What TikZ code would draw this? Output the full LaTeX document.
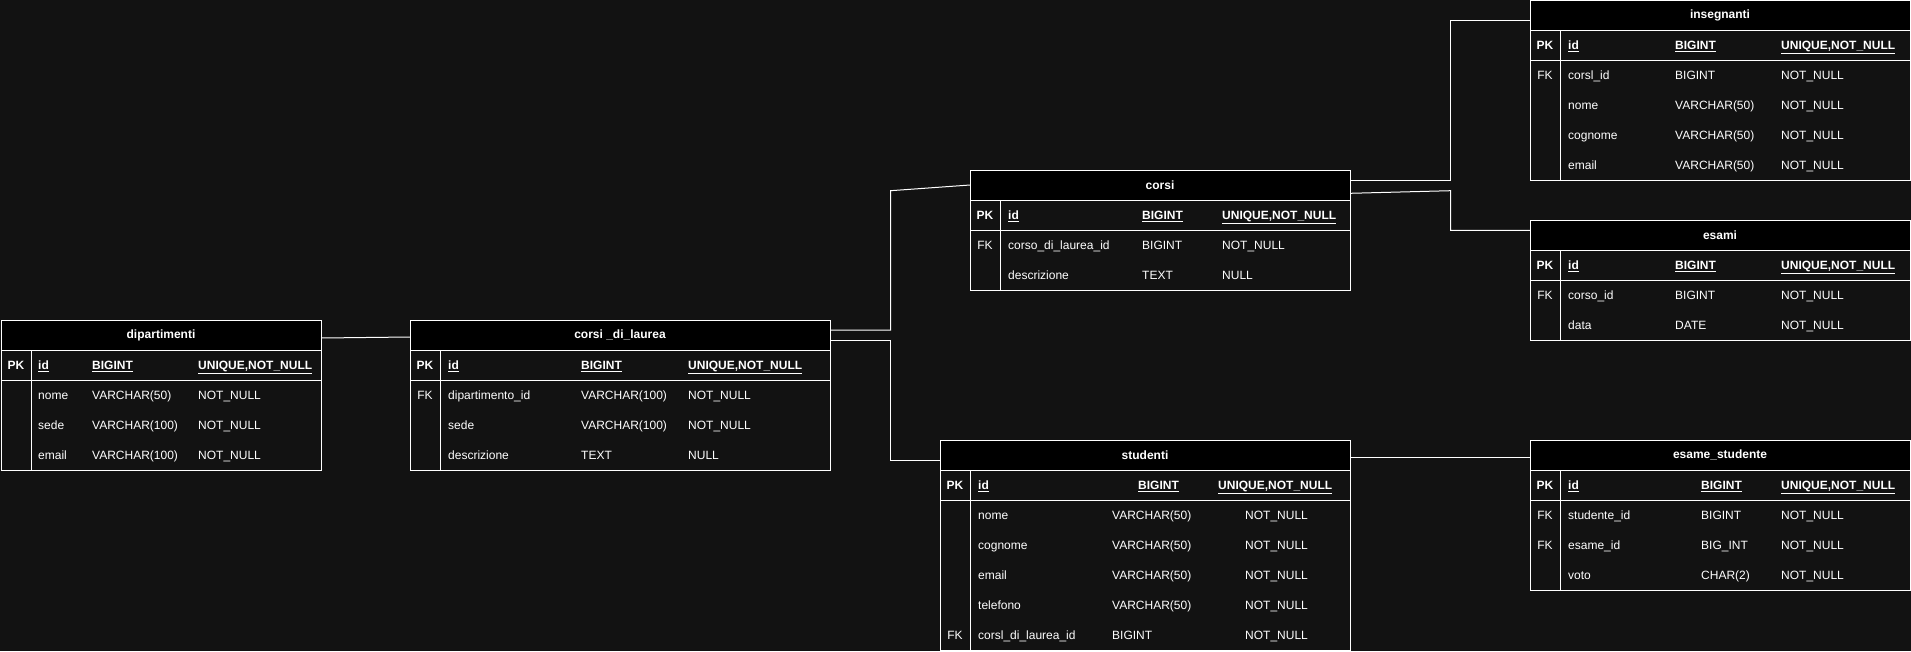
\documentclass[tikz,border=0pt]{standalone}
\usepackage{fontspec}
\setmainfont{Liberation Sans}
\definecolor{bgc}{RGB}{18,18,18}
\tikzset{
  tframe/.style={draw=white, line width=1pt, anchor=north west, inner sep=0pt, outer sep=0pt},
  thead/.style={draw=white, fill=black, line width=1pt, anchor=north west, inner sep=0pt, outer sep=0pt,
    minimum height=30pt, text=white, font=\fontsize{12}{14}\selectfont\bfseries},
  tline/.style={draw=white, line width=1pt},
  cell/.style={anchor=west, inner sep=0pt, text=white, text height=8.6pt, text depth=0pt,
    font=\fontsize{12}{14}\selectfont},
  keycell/.style={anchor=center, inner sep=0pt, text=white, text height=8.6pt, text depth=0pt,
    font=\fontsize{12}{14}\selectfont},
  conn/.style={draw=white, line width=1pt},
}
\newcommand{\pk}[1]{\textbf{\underline{#1}}}
\newcommand{\ertable}[6]{%
  \def\tL{#2}\def\tT{#3}%
  \node[tframe, minimum width=#4pt, minimum height=#5*30pt] (#1) at (#2,#3) {};
  \node[thead, minimum width=#4pt] (#1-title) at (#2,#3) {#6};
  \draw[tline] ([yshift=-60pt]#1.north west) -- ([yshift=-60pt]#1.north east);
  \draw[tline] ([xshift=30pt,yshift=-30pt]#1.north west) -- ([xshift=30pt]#1.south west);
}
\newcommand{\erow}[9]{%
  \node[keycell] (#1-#2k) at (\tL+15, \tT+45+30*#2) {#3};
  \node[cell] (#1-#2a) at (#4, \tT+45+30*#2) {#5};
  \node[cell] (#1-#2b) at (#6, \tT+45+30*#2) {#7};
  \node[cell] (#1-#2c) at (#8, \tT+45+30*#2) {#9};
}
\begin{document}
\begin{tikzpicture}[x=1pt, y=-1pt]
\fill[bgc] (0,0) rectangle (1911,651);
\useasboundingbox (0,0) rectangle (1911,651);

% dipartimenti
\ertable{dip}{1}{320}{320}{5}{dipartimenti}
\erow{dip}{0}{\textbf{PK}}{38}{\pk{id}}{92}{\pk{BIGINT}}{198}{\pk{UNIQUE,NOT\_NULL}}
\erow{dip}{1}{}{38}{nome}{92}{VARCHAR(50)}{198}{NOT\_NULL}
\erow{dip}{2}{}{38}{sede}{92}{VARCHAR(100)}{198}{NOT\_NULL}
\erow{dip}{3}{}{38}{email}{92}{VARCHAR(100)}{198}{NOT\_NULL}

% corsi _di_laurea
\ertable{cdl}{410}{320}{420}{5}{corsi \_di\_laurea}
\erow{cdl}{0}{\textbf{PK}}{448}{\pk{id}}{581}{\pk{BIGINT}}{688}{\pk{UNIQUE,NOT\_NULL}}
\erow{cdl}{1}{FK}{448}{dipartimento\_id}{581}{VARCHAR(100)}{688}{NOT\_NULL}
\erow{cdl}{2}{}{448}{sede}{581}{VARCHAR(100)}{688}{NOT\_NULL}
\erow{cdl}{3}{}{448}{descrizione}{581}{TEXT}{688}{NULL}

% corsi
\ertable{corsi}{970}{170}{380}{4}{corsi}
\erow{corsi}{0}{\textbf{PK}}{1008}{\pk{id}}{1142}{\pk{BIGINT}}{1222}{\pk{UNIQUE,NOT\_NULL}}
\erow{corsi}{1}{FK}{1008}{corso\_di\_laurea\_id}{1142}{BIGINT}{1222}{NOT\_NULL}
\erow{corsi}{2}{}{1008}{descrizione}{1142}{TEXT}{1222}{NULL}

% studenti
\ertable{stud}{940}{440}{410}{7}{studenti}
\erow{stud}{0}{\textbf{PK}}{978}{\pk{id}}{1138}{\pk{BIGINT}}{1218}{\pk{UNIQUE,NOT\_NULL}}
\erow{stud}{1}{}{978}{nome}{1112}{VARCHAR(50)}{1245}{NOT\_NULL}
\erow{stud}{2}{}{978}{cognome}{1112}{VARCHAR(50)}{1245}{NOT\_NULL}
\erow{stud}{3}{}{978}{email}{1112}{VARCHAR(50)}{1245}{NOT\_NULL}
\erow{stud}{4}{}{978}{telefono}{1112}{VARCHAR(50)}{1245}{NOT\_NULL}
\erow{stud}{5}{FK}{978}{corsl\_di\_laurea\_id}{1112}{BIGINT}{1245}{NOT\_NULL}

% insegnanti
\ertable{ins}{1530}{0.5}{380}{6}{insegnanti}
\erow{ins}{0}{\textbf{PK}}{1568}{\pk{id}}{1675}{\pk{BIGINT}}{1781}{\pk{UNIQUE,NOT\_NULL}}
\erow{ins}{1}{FK}{1568}{corsl\_id}{1675}{BIGINT}{1781}{NOT\_NULL}
\erow{ins}{2}{}{1568}{nome}{1675}{VARCHAR(50)}{1781}{NOT\_NULL}
\erow{ins}{3}{}{1568}{cognome}{1675}{VARCHAR(50)}{1781}{NOT\_NULL}
\erow{ins}{4}{}{1568}{email}{1675}{VARCHAR(50)}{1781}{NOT\_NULL}

% esami
\ertable{esami}{1530}{220}{380}{4}{esami}
\erow{esami}{0}{\textbf{PK}}{1568}{\pk{id}}{1675}{\pk{BIGINT}}{1781}{\pk{UNIQUE,NOT\_NULL}}
\erow{esami}{1}{FK}{1568}{corso\_id}{1675}{BIGINT}{1781}{NOT\_NULL}
\erow{esami}{2}{}{1568}{data}{1675}{DATE}{1781}{NOT\_NULL}

% esame_studente
\ertable{esst}{1530}{440}{380}{5}{esame\_studente}
\erow{esst}{0}{\textbf{PK}}{1568}{\pk{id}}{1701}{\pk{BIGINT}}{1781}{\pk{UNIQUE,NOT\_NULL}}
\erow{esst}{1}{FK}{1568}{studente\_id}{1701}{BIGINT}{1781}{NOT\_NULL}
\erow{esst}{2}{FK}{1568}{esame\_id}{1701}{BIG\_INT}{1781}{NOT\_NULL}
\erow{esst}{3}{}{1568}{voto}{1701}{CHAR(2)}{1781}{NOT\_NULL}

% connectors
\draw[conn] ([yshift=-18pt]dip.north east) -- ([yshift=-17pt]cdl.north west);
\draw[conn] ([yshift=-10pt]cdl.north east) -| (890.5,190.7) -- ([yshift=-15pt]corsi.north west);
\draw[conn] ([yshift=-20pt]cdl.north east) -| (890.5,460) -- ([yshift=-20pt]stud.north west);
\draw[conn] ([yshift=-10pt]corsi.north east) -| (1450.5,20.7) -- ([yshift=-20.2pt]ins.north west);
\draw[conn] ([yshift=-23.3pt]corsi.north east) -- (1450.5,190.7) |- ([yshift=-10.3pt]esami.north west);
\draw[conn] ([yshift=-17pt]stud.north east) -- ([yshift=-17pt]esst.north west);
\end{tikzpicture}
\end{document}
